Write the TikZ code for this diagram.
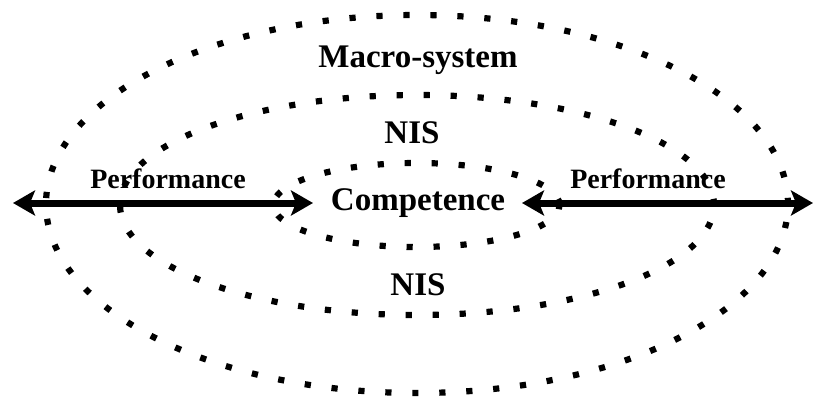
\documentclass[tikz,border=0pt]{standalone}
\usepackage{fontspec}
\setmainfont{Liberation Serif}
\usetikzlibrary{arrows.meta}
\begin{document}
\begin{tikzpicture}[x=1pt,y=-1pt,
  dotline/.style={line width=6.2pt, line cap=butt, dash pattern=on 6.2pt off 20.8pt},
  arr/.style={line width=7pt, {Stealth[length=22pt,width=25pt,inset=5pt]}-{Stealth[length=22pt,width=25pt,inset=5pt]}},
  bigtxt/.style={font=\fontsize{33}{33}\selectfont\bfseries, inner sep=0pt, anchor=base},
  smalltxt/.style={font=\fontsize{28}{28}\selectfont\bfseries, inner sep=0pt, anchor=base}]
\useasboundingbox (0,0) rectangle (815,397);
% ellipses
\draw[dotline] (417,204) ellipse [x radius=371pt, y radius=189pt];
\draw[dotline] (417,205) ellipse [x radius=297pt, y radius=110pt];
\draw[dotline] (416.5,205) ellipse [x radius=143pt, y radius=42pt];
% labels
\node[bigtxt] (macro) at (418,67) {Macro-system};
\node[bigtxt] (nisup) at (412,143) {NIS};
\node[bigtxt] (comp) at (418,210) {Competence};
\node[bigtxt] (nisdown) at (418,295) {NIS};
\node[smalltxt] (perfl) at (168,188) {Performance};
\node[smalltxt] (perfr) at (648,188) {Performance};
% arrows
\coordinate (la) at (13,203);
\coordinate (lb) at (313,203);
\coordinate (ra) at (522,203);
\coordinate (rb) at (813,203);
\draw[arr] (la) -- (lb);
\draw[arr] (ra) -- (rb);
\end{tikzpicture}
\end{document}
